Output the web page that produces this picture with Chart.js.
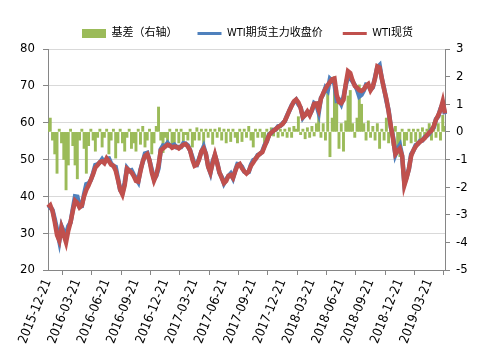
<!DOCTYPE html>
<html><head><meta charset="utf-8">
<script src="https://cdn.jsdelivr.net/npm/chart.js@4.4.1/dist/chart.umd.min.js"></script>
<style>html,body{margin:0;padding:0;background:#fff;}</style>
</head><body>
<canvas id="c" width="495" height="364"></canvas>
<script>
// Quarterly tick labels (one every 13 weekly categories)
const tickLabels = ['2015-12-21','2016-03-21','2016-06-21','2016-09-21','2016-12-21','2017-03-21','2017-06-21','2017-09-21','2017-12-21','2018-03-21','2018-06-21','2018-09-21','2018-12-21','2019-03-21'];

// WTI spot (left axis), weekly
const spot = [
37.0,37.6,36.0,33.0,29.5,28.0,31.5,29.5,27.5,30.7,
33.0,36.0,38.8,38.2,37.0,37.5,40.0,41.8,43.0,44.5,
46.0,47.8,48.5,49.3,49.5,49.0,50.3,49.5,48.6,48.3,
47.0,44.5,41.8,40.5,43.0,47.5,47.0,46.5,45.5,44.2,
44.0,46.8,49.5,51.0,51.5,49.8,46.5,44.3,45.8,48.5,
52.5,53.0,53.5,54.0,53.8,53.2,53.5,53.4,53.0,53.5,
54.0,54.2,53.5,52.5,50.0,48.3,48.6,50.0,52.2,53.0,
51.5,48.0,46.5,49.0,51.3,49.0,46.5,45.0,43.6,44.2,
45.6,45.8,45.0,46.8,48.4,48.8,47.6,46.8,46.2,46.8,
48.3,49.2,50.2,51.0,51.6,52.0,53.5,55.0,56.6,57.3,
57.8,58.3,58.8,59.2,59.6,60.5,61.8,63.3,64.5,65.8,
66.3,65.5,64.0,61.5,62.0,63.0,62.0,63.5,65.1,65.2,
63.5,66.5,68.0,69.2,70.2,71.0,71.8,72.0,67.5,65.6,
65.3,66.2,70.5,74.0,73.5,71.5,70.0,69.5,68.8,68.6,
69.0,70.0,70.5,68.8,69.8,72.0,75.3,75.0,72.0,69.0,
66.5,63.0,59.0,55.5,51.5,52.3,53.0,51.0,43.0,45.0,
47.5,51.0,52.5,53.5,54.3,54.8,55.3,55.8,56.6,57.3,
57.8,59.0,60.8,62.0,63.5,65.8,62.5];

// WTI front-month futures close (left axis), weekly
const futures = [
36.7,37.1,36.3,33.8,31.0,27.9,31.9,30.5,29.6,31.9,
32.9,36.5,40.0,39.9,37.3,37.4,40.6,43.3,43.5,44.4,
46.3,48.5,48.7,49.2,50.1,49.2,50.2,50.3,48.9,48.2,
48.0,44.9,41.7,40.9,43.7,47.7,46.9,47.1,45.9,44.9,
43.9,47.3,49.3,51.6,51.8,49.7,47.3,44.7,45.6,47.6,
52.8,53.8,53.7,54.5,53.7,53.7,54.0,53.3,53.4,53.4,
54.4,54.3,53.8,52.4,50.6,48.6,48.5,50.3,52.1,53.5,
51.4,48.2,46.4,49.5,51.2,49.2,46.4,45.3,43.5,44.6,
45.5,46.2,44.9,47.0,48.8,48.7,48.0,46.7,46.4,46.6,
48.6,49.8,50.1,51.2,51.5,52.2,53.9,54.9,56.8,57.2,
58.0,58.2,59.0,59.1,59.8,60.4,62.0,63.2,64.7,65.6,
66.2,65.0,64.1,61.4,62.3,62.9,62.2,63.3,65.3,64.9,
62.7,66.7,67.7,69.5,68.7,71.9,71.3,70.5,66.0,66.2,
65.0,66.9,70.1,72.7,72.0,71.2,70.2,69.0,67.1,67.6,
68.7,70.3,70.1,69.0,69.6,72.3,75.0,75.6,71.9,69.3,
66.0,63.4,58.7,56.0,51.3,52.9,53.9,50.9,43.5,45.3,
47.4,51.4,52.4,53.9,54.2,55.1,55.2,56.1,56.5,57.0,
58.1,58.7,61.0,61.7,63.8,65.2,62.3];

// Basis (right axis), weekly
const basis = [
0.3,0.5,-0.3,-0.8,-1.5,0.1,-0.4,-1.0,-2.1,-1.2,
0.1,-0.5,-1.2,-1.7,-0.3,0.1,-0.6,-1.5,-0.5,0.1,
-0.3,-0.7,-0.2,0.1,-0.55,-0.2,0.1,-0.8,-0.3,0.1,
-0.95,-0.4,0.1,-0.4,-0.7,-0.2,0.1,-0.6,-0.4,-0.7,
0.1,-0.45,0.2,-0.55,-0.3,0.1,-0.8,-0.4,0.2,0.9,
-0.3,-0.75,-0.2,-0.45,0.1,-0.45,-0.5,0.1,-0.4,0.1,
-0.35,-0.1,-0.3,0.1,-0.55,-0.3,0.15,-0.3,0.1,-0.45,
0.1,-0.2,0.1,-0.45,0.1,-0.2,0.15,-0.3,0.1,-0.4,
0.1,-0.35,0.1,-0.2,-0.4,0.1,-0.35,0.1,-0.2,0.2,
-0.3,-0.55,0.1,-0.2,0.1,-0.2,-0.4,0.1,-0.2,0.15,
-0.15,0.1,-0.2,0.1,-0.15,0.1,-0.2,0.15,-0.2,0.2,
0.1,0.55,-0.1,0.1,-0.25,0.15,-0.2,0.2,-0.15,0.3,
0.8,-0.2,0.3,-0.3,1.5,-0.9,0.5,2.0,1.5,-0.6,
0.3,-0.7,0.4,1.3,1.5,0.3,-0.2,0.5,1.7,1.0,
0.3,-0.3,0.4,-0.2,0.2,-0.3,0.3,-0.6,0.1,-0.3,
0.5,-0.4,0.3,-0.5,0.2,-0.6,-0.9,0.1,-0.5,-0.3,
0.1,-0.4,0.1,-0.35,0.1,-0.3,0.15,-0.25,0.1,0.3,
-0.3,0.35,-0.2,0.3,-0.3,0.6,0.2];

// Weekly categories starting 2015-12-21
const categories = [];
{
  const d0 = new Date(Date.UTC(2015, 11, 21));
  for (let i = 0; i < spot.length; i++) {
    const d = new Date(d0.getTime() + i * 7 * 86400000);
    categories.push(d.toISOString().slice(0, 10));
  }
}

const FAMILY = "'Liberation Sans Narrow','DejaVu Sans Condensed','Noto Sans CJK SC',sans-serif";
const AXIS = '#868686';

new Chart(document.getElementById('c'), {
  type: 'bar',
  data: {
    labels: categories,
    datasets: [
      { type: 'bar', label: '基差（右轴）', data: basis, yAxisID: 'y1',
        backgroundColor: '#9BBB59', borderWidth: 0, barPercentage: 1, categoryPercentage: 1, order: 3 },
      { type: 'line', label: 'WTI期货主力收盘价', data: futures, yAxisID: 'y',
        borderColor: '#4F81BD', backgroundColor: '#4F81BD', borderWidth: 4.5, pointRadius: 0, tension: 0, order: 2 },
      { type: 'line', label: 'WTI现货', data: spot, yAxisID: 'y',
        borderColor: '#C0504D', backgroundColor: '#C0504D', borderWidth: 4.5, pointRadius: 0, tension: 0, order: 1 }
    ]
  },
  options: {
    responsive: false,
    animation: false,
    devicePixelRatio: 1,
    layout: { padding: { top: 8, left: 0, right: 0, bottom: 0 } },
    plugins: {
      tooltip: { enabled: false },
      legend: {
        position: 'top',
        labels: {
          usePointStyle: true,
          pointStyleWidth: 24,
          boxHeight: 9,
          padding: 20,
          color: '#000',
          font: { size: 11, family: FAMILY },
          sort: (a, b) => a.datasetIndex - b.datasetIndex,
          generateLabels(chart) {
            const items = Chart.defaults.plugins.legend.labels.generateLabels(chart);
            items.forEach(it => {
              const ds = chart.data.datasets[it.datasetIndex];
              if (ds.type === 'line') {
                it.pointStyle = 'line'; it.strokeStyle = ds.borderColor; it.lineWidth = 3;
              } else {
                it.pointStyle = 'rect'; it.fillStyle = ds.backgroundColor; it.strokeStyle = ds.backgroundColor; it.lineWidth = 0;
              }
            });
            return items;
          }
        }
      }
    },
    scales: {
      x: {
        offset: false,
        grid: { drawOnChartArea: false, drawTicks: true, tickLength: 5, tickColor: AXIS },
        border: { color: AXIS },
        ticks: {
          autoSkip: false, minRotation: 68, maxRotation: 68, padding: 2,
          color: '#000', font: { size: 13, family: FAMILY },
          callback(v, i) { return i % 13 === 0 ? tickLabels[i / 13] : null; }
        },
        afterFit(s) { s.height = 94; }
      },
      y: {
        position: 'left', min: 20, max: 80,
        grid: { color: '#D9D9D9', drawTicks: true, tickLength: 5, tickColor: AXIS },
        border: { color: AXIS },
        ticks: { stepSize: 10, padding: 8, color: '#000', font: { size: 13, family: FAMILY } },
        afterFit(s) { s.width = 48; }
      },
      y1: {
        position: 'right', min: -5, max: 3,
        grid: { drawOnChartArea: false, drawTicks: true, tickLength: 5, tickColor: AXIS },
        border: { color: AXIS },
        ticks: { stepSize: 1, padding: 6, color: '#000', font: { size: 13, family: FAMILY } },
        afterFit(s) { s.width = 50; }
      }
    }
  }
});
</script>
</body></html>
